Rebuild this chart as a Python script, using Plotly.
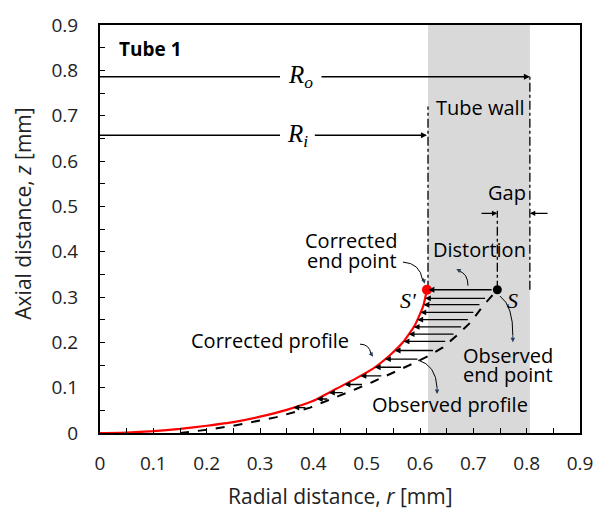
import numpy as np
import plotly.graph_objects as go

# ---- data ----
r_cor = [0.0, 0.05, 0.10, 0.15, 0.20, 0.25, 0.30, 0.35, 0.40, 0.444, 0.481, 0.512, 0.544, 0.568, 0.590, 0.606, 0.613]
z_cor = [0.0, 0.001, 0.004, 0.009, 0.016, 0.024, 0.036, 0.051, 0.071, 0.098, 0.121, 0.142, 0.172, 0.200, 0.237, 0.280, 0.316]

r_obs = [0.15, 0.20, 0.25, 0.30, 0.331, 0.394, 0.45, 0.48, 0.51, 0.54, 0.568, 0.594, 0.619, 0.643, 0.669, 0.694, 0.718, 0.737, 0.745]
z_obs = [0.0, 0.007, 0.016, 0.028, 0.035, 0.056, 0.082, 0.097, 0.112, 0.128, 0.142, 0.157, 0.172, 0.189, 0.215, 0.243, 0.280, 0.305, 0.316]

arrow_z = [0.297, 0.283, 0.266, 0.250, 0.234, 0.218, 0.202, 0.182, 0.163, 0.145, 0.126, 0.107, 0.089, 0.075, 0.056]

R_i = 0.615
R_o = 0.806
z_Ro = 0.786
z_Ri = 0.657
S_r, S_z = 0.745, 0.316
Sp_r, Sp_z = 0.613, 0.316

x_ticks = [0, 0.1, 0.2, 0.3, 0.4, 0.5, 0.6, 0.7, 0.8, 0.9]
y_ticks = [0, 0.1, 0.2, 0.3, 0.4, 0.5, 0.6, 0.7, 0.8, 0.9]

FONT = "Open Sans"
FS = 20
fig = go.Figure()

# tube wall
fig.add_shape(type="rect", x0=R_i, x1=R_o, y0=0, y1=0.9, fillcolor="#d9d9d9",
              line_width=0, layer="below")

# dash-dot verticals
dd = dict(color="black", width=1.3, dash="dashdot")
fig.add_trace(go.Scatter(x=[R_i, R_i], y=[Sp_z, 0.72], mode="lines", line=dd, hoverinfo="skip"))
fig.add_trace(go.Scatter(x=[R_o, R_o], y=[Sp_z, z_Ro], mode="lines", line=dd, hoverinfo="skip"))
fig.add_trace(go.Scatter(x=[S_r, S_r], y=[S_z, 0.49], mode="lines", line=dd, hoverinfo="skip"))

# observed profile
fig.add_trace(go.Scatter(x=r_obs, y=z_obs, mode="lines", line=dict(color="black", width=2, dash="dash"),
                         hoverinfo="skip"))
# corrected profile
fig.add_trace(go.Scatter(x=r_cor, y=z_cor, mode="lines", line=dict(color="red", width=2.2),
                         line_shape="spline", line_smoothing=0.5, hoverinfo="skip"))
fig.add_trace(go.Scatter(x=[Sp_r], y=[Sp_z], mode="markers", marker=dict(color="red", size=10)))
fig.add_trace(go.Scatter(x=[S_r], y=[S_z], mode="markers", marker=dict(color="black", size=9)))

ann = []
def arrow(x0, y0, x1, y1, w=1.3, size=0.9):
    ann.append(dict(x=x1, y=y1, ax=x0, ay=y0, xref="x", yref="y", axref="x", ayref="y",
                    showarrow=True, arrowhead=2, arrowsize=size, arrowwidth=w, arrowcolor="black", text=""))

# horizontal distortion arrows
arrow(S_r - 0.008, S_z, Sp_r + 0.003, Sp_z)
for z in arrow_z:
    r0 = float(np.interp(z, z_obs, r_obs)) - 0.006
    r1 = float(np.interp(z, z_cor, r_cor))
    arrow(r0, z, r1, z)

# Ro / Ri dimension lines
fig.add_trace(go.Scatter(x=[0, 0.3375], y=[z_Ro, z_Ro], mode="lines", line=dict(color="black", width=1.5), hoverinfo="skip"))
fig.add_trace(go.Scatter(x=[0, 0.3375], y=[z_Ri, z_Ri], mode="lines", line=dict(color="black", width=1.5), hoverinfo="skip"))
arrow(0.4125, z_Ro, R_o, z_Ro, w=1.5, size=0.8)
arrow(0.40, z_Ri, R_i - 0.002, z_Ri, w=1.5, size=0.8)

# Gap arrows
arrow(0.7125, 0.4845, S_r, 0.4845, w=1.2, size=0.9)
arrow(0.842, 0.4845, R_o, 0.4845, w=1.2, size=0.9)

# curved leader arrows
def curved(p0, c, p1):
    fig.add_shape(type="path", path=f"M {p0[0]},{p0[1]} Q {c[0]},{c[1]} {p1[0]},{p1[1]}",
                  line=dict(color="black", width=1), xref="x", yref="y")

def head(x, y, ax, ay):
    ann.append(dict(x=x, y=y, ax=ax, ay=ay, xref="x", yref="y", axref="x", ayref="y",
                    showarrow=True, arrowhead=2, arrowsize=0.9, arrowwidth=1, text=""))

curved((0.568, 0.377), (0.600, 0.375), (0.605, 0.337))
head(0.609, 0.329, 0.605, 0.345)
curved((0.690, 0.325), (0.690, 0.352), (0.672, 0.358))
head(0.668, 0.362, 0.676, 0.357)
curved((0.750, 0.302), (0.775, 0.280), (0.774, 0.215))
head(0.774, 0.200, 0.774, 0.218)
curved((0.596, 0.161), (0.630, 0.150), (0.632, 0.100))
head(0.632, 0.086, 0.632, 0.104)
curved((0.4875, 0.196), (0.505, 0.196), (0.508, 0.175))
head(0.512, 0.168, 0.507, 0.177)

# text labels
def txt(x, y, s, size=FS, family=FONT, **kw):
    d = dict(x=x, y=y, xref="x", yref="y", text=s, showarrow=False,
             font=dict(family=family, size=size, color="black"))
    d.update(kw)
    ann.append(d)

txt(0.032, 0.846, "<b>Tube 1</b>", size=19, xanchor="left")
txt(0.7125, 0.717, "Tube wall")
txt(0.763, 0.530, "Gap")
txt(0.711, 0.405, "Distortion")
txt(0.561, 0.425, "Corrected", xanchor="right")
txt(0.561, 0.380, "end point", xanchor="right")
txt(0.765, 0.172, "Observed")
txt(0.765, 0.129, "end point")
txt(0.656, 0.0625, "Observed profile")
txt(0.319, 0.204, "Corrected profile")
serif = "Liberation Serif"
txt(0.375, z_Ro, "<i>R</i><sub><i>o</i></sub>", size=25, family=serif)
txt(0.370, z_Ri, "<i>R</i><sub><i>i</i></sub>", size=25, family=serif)
txt(0.578, 0.293, "<i>S'</i>", size=22, family=serif)
txt(0.7725, 0.293, "<i>S</i>", size=22, family=serif)

# axis titles
ann.append(dict(x=0.5, y=-0.1555, xref="paper", yref="paper", showarrow=False,
                xanchor="center", yanchor="middle",
                text="Radial distance, <i>r</i> [mm]", font=dict(family=FONT, size=21, color="#222")))
ann.append(dict(x=-0.16, y=0.538, xref="paper", yref="paper", showarrow=False, textangle=-90,
                xanchor="center", yanchor="middle",
                text="Axial distance, <i>z</i> [mm]", font=dict(family=FONT, size=21, color="#222")))

fig.update_layout(annotations=ann)

axis_common = dict(showgrid=False, zeroline=False, showline=True, linecolor="black", linewidth=2,
                   mirror=True, ticks="inside", ticklen=5, tickcolor="black", tickwidth=1,
                   minor=dict(ticks="inside", ticklen=5, dtick=0.05, tickcolor="black"),
                   tickfont=dict(family=FONT, size=19, color="#222"))
fig.update_xaxes(range=[0, 0.9], tickvals=x_ticks, ticktext=[f"{v:g}" for v in x_ticks],
                 ticklabelstandoff=12, **axis_common)
fig.update_yaxes(range=[0, 0.9], tickvals=y_ticks, ticktext=[f"{v:g}" for v in y_ticks],
                 ticklabelstandoff=16, **axis_common)

fig.update_layout(width=605, height=514, margin=dict(l=100, r=25, t=15, b=81),
                  showlegend=False, plot_bgcolor="white", paper_bgcolor="white")

fig.write_html("out.html")
